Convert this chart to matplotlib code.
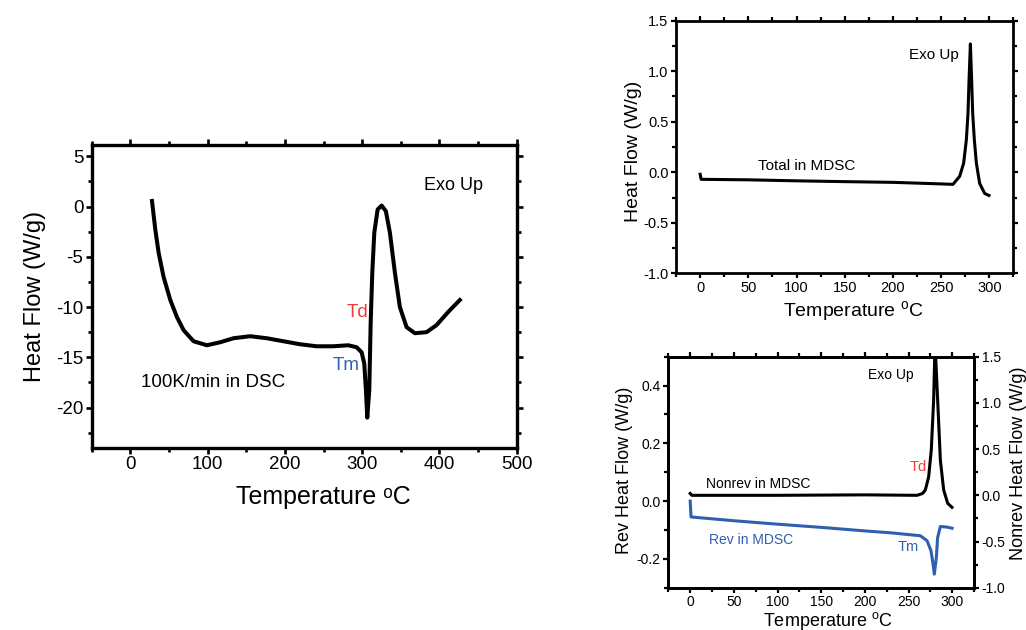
import matplotlib as mpl
mpl.use('Agg')
import matplotlib.pyplot as plt
from matplotlib.ticker import MultipleLocator

plt.rcParams['font.family'] = ['Liberation Sans', 'DejaVu Sans']
plt.rcParams['axes.unicode_minus'] = False
plt.rcParams['mathtext.fontset'] = 'custom'
plt.rcParams['mathtext.rm'] = 'Liberation Sans'

# --- DSC at 100 K/min (left panel) ---
dsc_T = [28, 32.3, 36.6, 43, 51.7, 60.3, 68.9, 81.8, 99, 116.3, 133.5, 155,
         176.6, 198, 219.6, 241.2, 262.7, 282, 292.9, 299.3, 302.7, 304.9,
         306.6, 309.2, 311, 313.1, 315.7, 320, 325.2, 330.7, 335.9, 342.4,
         348.8, 357.5, 368.2, 383.3, 396.2, 411.2, 426.4]
dsc_hf = [0.55, -2.3, -4.6, -7.0, -9.3, -11.0, -12.3, -13.4, -13.8, -13.5,
          -13.1, -12.9, -13.1, -13.4, -13.7, -13.9, -13.9, -13.8, -14.0, -14.5,
          -15.6, -18.3, -21.0, -18.3, -11.6, -6.6, -2.6, -0.3, 0.1, -0.46, -2.6,
          -6.6, -10.0, -12.0, -12.6, -12.5, -11.8, -10.5, -9.3]

# --- MDSC total (top right) ---
tot_T = [0, 1, 50, 100, 150, 200, 248.5, 262.3, 269.3, 273.4, 276.2, 277.9,
         279, 280.4, 281.7, 282.8, 284.5, 286.6, 290, 295.2, 299.7]
tot_hf = [-0.02, -0.07, -0.075, -0.085, -0.093, -0.1, -0.115, -0.12, -0.04,
          0.09, 0.32, 0.58, 0.91, 1.27, 0.91, 0.58, 0.32, 0.09, -0.11, -0.21,
          -0.23]

# --- MDSC reversing / non-reversing (bottom right) ---
rev_T = [0, 1, 50, 100, 150, 194.7, 230, 263.5, 271.1, 275.7, 278, 279.5, 281.8,
         283.3, 286.4, 294, 299.8]
rev_hf = [0.0, -0.055, -0.068, -0.08, -0.091, -0.102, -0.11, -0.12, -0.137,
          -0.172, -0.218, -0.253, -0.195, -0.126, -0.088, -0.09, -0.094]

nonrev_T = [0, 2, 100, 200, 259.7, 266, 269.2, 273, 276, 278.7, 280.3, 283.3,
            286.4, 290.2, 294.8, 299.7]
nonrev_hf = [0.02, 0.0, 0.0, 0.005, 0.0, 0.02, 0.057, 0.2, 0.49, 1.03, 1.65,
             1.03, 0.38, 0.057, -0.087, -0.13]

red = '#ee3b3b'
blue = '#2e5fb0'

fig = plt.figure(figsize=(10.26, 6.3), dpi=100)


def style(ax, lw, fs, ticklen):
    for s in ax.spines.values():
        s.set_linewidth(lw)
    ax.tick_params(which='both', direction='out', top=True, right=True,
                   width=lw * 0.8, labelsize=fs, pad=2)
    ax.tick_params(which='major', length=ticklen)
    ax.tick_params(which='minor', length=ticklen * 0.8)


# left panel
ax1 = fig.add_axes([0.0894, 0.2892, 0.4142, 0.4803])
ax1.plot(dsc_T, dsc_hf, color='black', lw=2.9, solid_joinstyle='round')
ax1.set_xlim(-50, 500)
ax1.set_ylim(-24, 6.1)
ax1.xaxis.set_major_locator(MultipleLocator(100))
ax1.xaxis.set_minor_locator(MultipleLocator(50))
ax1.yaxis.set_major_locator(MultipleLocator(5))
ax1.yaxis.set_minor_locator(MultipleLocator(2.5))
style(ax1, 2.4, 13.5, 4)
ax1.set_ylabel('Heat Flow (W/g)', fontsize=17)
ax1.set_xlabel('Temperature \u1d52C', fontsize=18)
ax1.yaxis.set_label_coords(-0.108, 0.5)
ax1.xaxis.set_label_coords(0.544, -0.123)
ax1.text(380, 2.1, 'Exo Up', fontsize=13, va='center')
ax1.text(279.7, -10.55, 'Td', fontsize=13.5, color=red, va='center')
ax1.text(262, -15.8, 'Tm', fontsize=13.5, color=blue, va='center')
ax1.text(13.3, -17.5, '100K/min in DSC', fontsize=13.5, va='center')

# top right panel
ax2 = fig.add_axes([0.6589, 0.5662, 0.3288, 0.401])
ax2.plot(tot_T, tot_hf, color='black', lw=2.2, solid_joinstyle='round')
ax2.set_xlim(-25, 325)
ax2.set_ylim(-1.0, 1.5)
ax2.xaxis.set_major_locator(MultipleLocator(50))
ax2.xaxis.set_minor_locator(MultipleLocator(25))
ax2.yaxis.set_major_locator(MultipleLocator(0.5))
ax2.yaxis.set_minor_locator(MultipleLocator(0.25))
ax2.yaxis.set_major_formatter('{x:.1f}')
style(ax2, 2.0, 10.5, 3.5)
ax2.set_ylabel('Heat Flow (W/g)', fontsize=14)
ax2.set_xlabel(r'Temperature $^{\rm o}$C', fontsize=14)
ax2.yaxis.set_label_coords(-0.101, 0.484)
ax2.xaxis.set_label_coords(0.526, -0.103)
ax2.text(217, 1.16, 'Exo Up', fontsize=11, va='center')
ax2.text(59.8, 0.065, 'Total in MDSC', fontsize=11, va='center')

# bottom right panel
ax3 = fig.add_axes([0.6514, 0.0671, 0.298, 0.3667])
ax3b = ax3.twinx()
ax3b.plot(nonrev_T, nonrev_hf, color='black', lw=2.2, solid_joinstyle='round')
ax3.plot(rev_T, rev_hf, color=blue, lw=2.2, solid_joinstyle='round')
ax3.set_zorder(ax3b.get_zorder() + 1)
ax3.patch.set_visible(False)
ax3.set_xlim(-25, 325)
ax3.set_ylim(-0.3, 0.5)
ax3b.set_ylim(-1.0, 1.5)
ax3.xaxis.set_major_locator(MultipleLocator(50))
ax3.xaxis.set_minor_locator(MultipleLocator(25))
ax3.yaxis.set_major_locator(MultipleLocator(0.2))
ax3.yaxis.set_minor_locator(MultipleLocator(0.1))
ax3.yaxis.set_major_formatter('{x:.1f}')
ax3b.yaxis.set_major_locator(MultipleLocator(0.5))
ax3b.yaxis.set_minor_locator(MultipleLocator(0.25))
ax3b.yaxis.set_major_formatter('{x:.1f}')
style(ax3, 2.0, 10, 3.5)
ax3.tick_params(which='both', right=False)
for s in ax3b.spines.values():
    s.set_linewidth(2.0)
ax3b.tick_params(which='both', direction='out', width=1.6, labelsize=10, pad=2)
ax3b.tick_params(which='major', length=3.5)
ax3b.tick_params(which='minor', length=2.8)
ax3.set_ylabel('Rev Heat Flow (W/g)', fontsize=13)
ax3b.set_ylabel('Nonrev Heat Flow (W/g)', fontsize=13)
ax3.set_xlabel(r'Temperature $^{\rm o}$C', fontsize=13)
ax3.yaxis.set_label_coords(-0.115, 0.51)
ax3b.yaxis.set_label_coords(1.118, 0.54)
ax3.xaxis.set_label_coords(0.523, -0.095)
ax3.text(204, 0.438, 'Exo Up', fontsize=10, va='center')
ax3.text(250.9, 0.118, 'Td', fontsize=10.5, color=red, va='center')
ax3.text(18.3, 0.06, 'Nonrev in MDSC', fontsize=10, va='center')
ax3.text(21, -0.134, 'Rev in MDSC', fontsize=10, color=blue, va='center')
ax3.text(238, -0.158, 'Tm', fontsize=10.5, color=blue, va='center')

plt.savefig('out.png', dpi=100)
